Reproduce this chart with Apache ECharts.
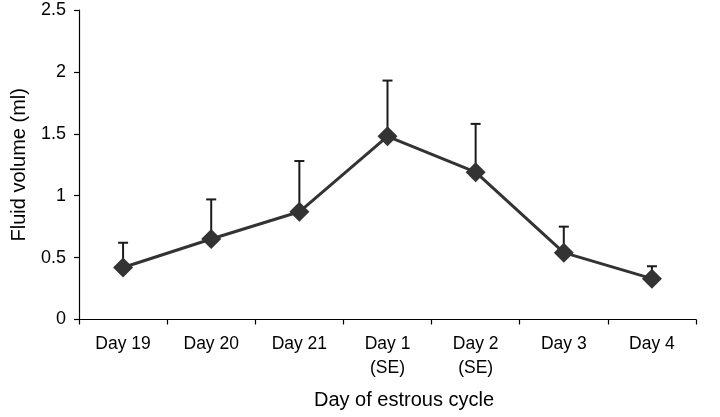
<!DOCTYPE html>
<html>
<head>
<meta charset="utf-8">
<script src="https://cdn.jsdelivr.net/npm/echarts@6/dist/echarts.min.js"></script>
<style>
html,body{margin:0;padding:0;background:#fff;}
#chart{width:720px;height:417px;}
</style>
</head>
<body>
<div id="chart"></div>
<script>
var categories = ['Day 19', 'Day 20', 'Day 21', 'Day 1\n(SE)', 'Day 2\n(SE)', 'Day 3', 'Day 4'];
var meanValues = [0.42, 0.65, 0.87, 1.48, 1.19, 0.54, 0.33];
var upperValues = [0.62, 0.97, 1.28, 1.93, 1.58, 0.75, 0.43];
var yTicks = [0, 0.5, 1, 1.5, 2, 2.5];

var errorData = categories.map(function (c, i) { return [i, meanValues[i], upperValues[i]]; });

var chart = echarts.init(document.getElementById('chart'));
var font = 'Liberation Sans, Arial, sans-serif';
chart.setOption({
  animation: false,
  grid: { left: 79, right: 24, top: 10, bottom: 97.5, containLabel: false },
  xAxis: {
    type: 'category',
    data: categories,
    boundaryGap: true,
    axisLine: { lineStyle: { color: '#000', width: 1.2 } },
    axisTick: { show: true, length: 5, lineStyle: { color: '#000', width: 1.2 } },
    axisLabel: { color: '#000', fontSize: 17.5, fontFamily: font, margin: 13, lineHeight: 24, interval: 0 },
    name: 'Day of estrous cycle',
    nameLocation: 'middle',
    nameGap: 71,
    nameTextStyle: { color: '#000', fontSize: 20, fontFamily: font, padding: [0, 0, 0, 33] }
  },
  yAxis: {
    type: 'value',
    min: 0, max: 2.5, interval: 0.5,
    axisLine: { show: true, lineStyle: { color: '#000', width: 1.2 } },
    axisTick: { show: true, length: 5, lineStyle: { color: '#000', width: 1.2 } },
    splitLine: { show: false },
    axisLabel: {
      color: '#000', fontSize: 18, fontFamily: font, margin: 13,
      formatter: function (v) { return yTicks.indexOf(v) >= 0 ? String(v) : ''; }
    },
    name: 'Fluid volume (ml)',
    nameLocation: 'middle',
    nameGap: 50,
    nameTextStyle: { color: '#000', fontSize: 20, fontFamily: font }
  },
  series: [
    {
      type: 'custom',
      z: 1,
      data: errorData,
      renderItem: function (params, api) {
        var x = api.value(0);
        var lo = api.coord([x, api.value(1)]);
        var hi = api.coord([x, api.value(2)]);
        var hw = 5;
        var style = { stroke: '#1a1a1a', lineWidth: 2 };
        return {
          type: 'group',
          children: [
            { type: 'line', shape: { x1: lo[0], y1: lo[1], x2: hi[0], y2: hi[1] }, style: style },
            { type: 'line', shape: { x1: hi[0] - hw, y1: hi[1], x2: hi[0] + hw, y2: hi[1] }, style: style }
          ]
        };
      }
    },
    {
      type: 'line',
      z: 5,
      data: meanValues,
      symbol: 'diamond',
      symbolSize: 20,
      lineStyle: { color: '#333333', width: 3 },
      itemStyle: { color: '#333333' }
    }
  ]
});
</script>
</body>
</html>
